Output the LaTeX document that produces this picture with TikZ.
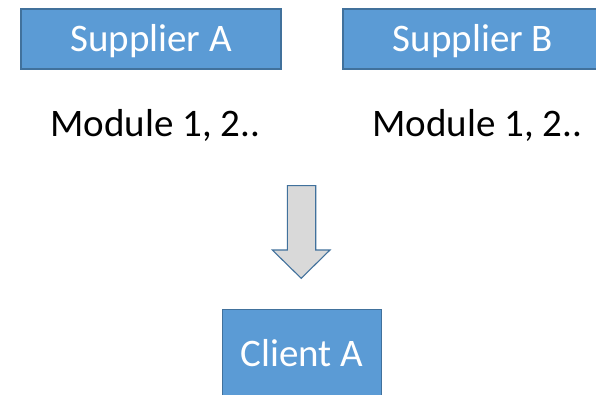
\documentclass[tikz,border=0pt]{standalone}
\usepackage{fontspec}
\setmainfont{Carlito}
\definecolor{boxfill}{HTML}{5B9BD5}
\definecolor{boxline}{HTML}{41719C}
\definecolor{arrowfill}{HTML}{D9D9D9}
\tikzset{
  x=1pt, y=-1pt,
  bluebox/.style={draw=boxline, fill=boxfill, line width=1.1pt, inner sep=0pt,
    text=white, font=\fontsize{39}{39}\selectfont, text height=25pt, text depth=0pt},
  modtext/.style={anchor=base, inner sep=0pt, font=\fontsize{39}{39}\selectfont}
}
\begin{document}
\begin{tikzpicture}
\useasboundingbox (0,0) rectangle (596,395);
\clip (0,0) rectangle (596,395);
\fill[white] (0,0) rectangle (596,395);

% supplier boxes
\node[bluebox, minimum width=260pt, minimum height=60pt] (supA) at (151,39) {Supplier A};
\node[bluebox, minimum width=260pt, minimum height=60pt] (supB) at (473,39) {Supplier B};

% module lists
\node[modtext] (modA) at (155.5,136.7) {Module 1, 2..};
\node[modtext] (modB) at (477.2,136.7) {Module 1, 2..};

% down arrow
\draw[draw=boxline, fill=arrowfill, line width=1.1pt, line join=miter]
  (287.3,185.7) -- (315.7,185.7) -- (315.7,250) -- (330,250) -- (301.2,278.3)
  -- (272.3,250) -- (287.3,250) -- cycle;

% client box, running past the lower edge; the extra depth keeps the label high
\node[bluebox, minimum width=159pt, minimum height=120.7pt, text depth=31.4pt]
  (cliA) at (301.7,369.65) {Client A};
\end{tikzpicture}
\end{document}
